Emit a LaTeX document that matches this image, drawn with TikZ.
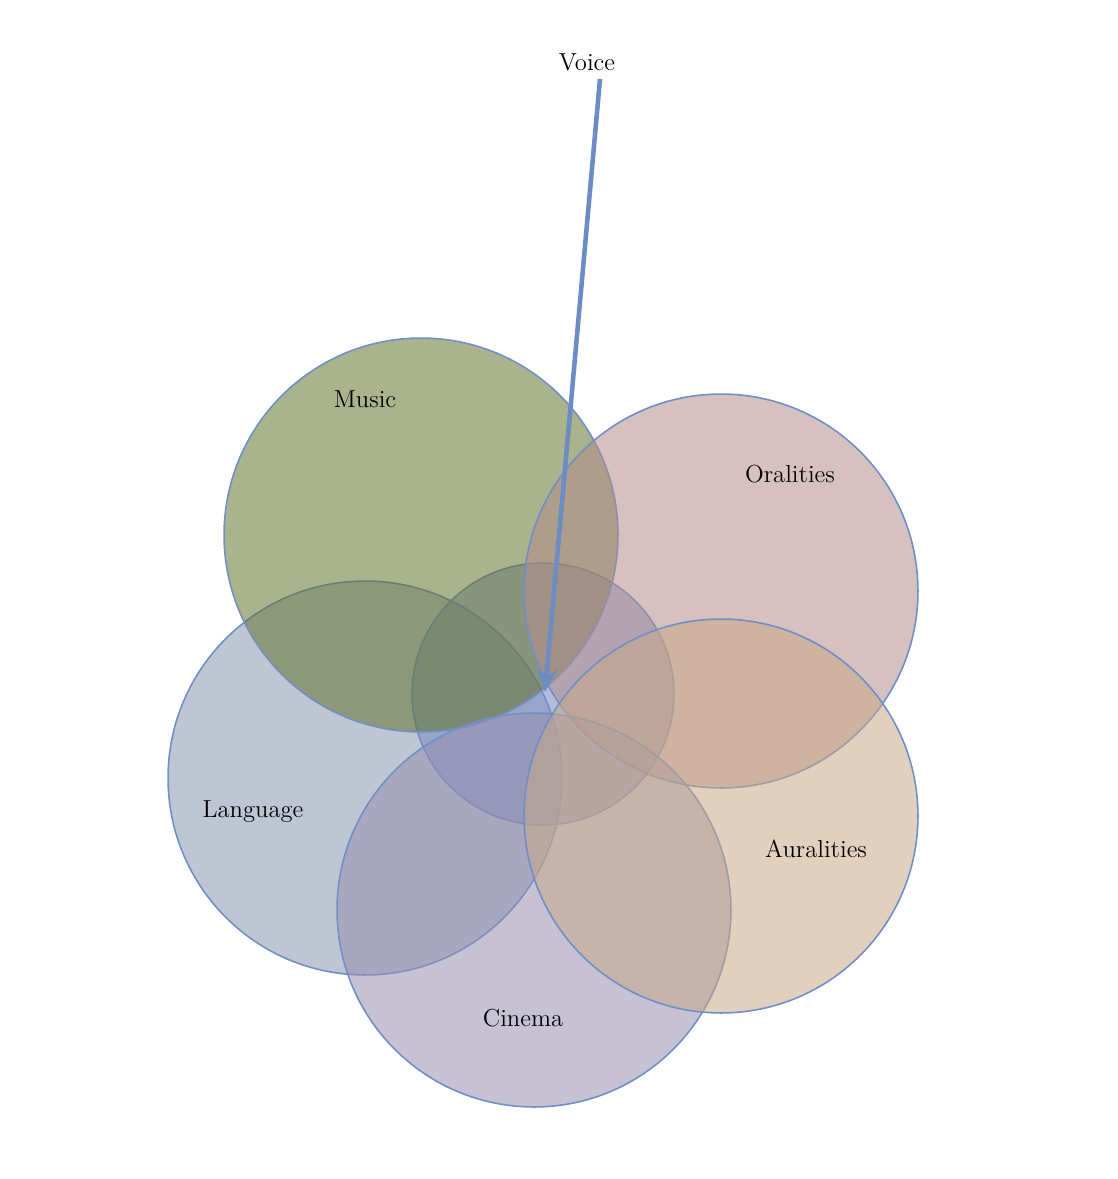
\documentclass[tikz,border=0pt]{standalone}
\usepackage{tikz}
\usetikzlibrary{arrows.meta}
\definecolor{musicgreen}{RGB}{100,116,44}
\definecolor{oralpink}{RGB}{180,140,140}
\definecolor{langblue}{RGB}{138,151,175}
\definecolor{cinemalilac}{RGB}{151,142,175}
\definecolor{auralbeige}{RGB}{200,169,135}
\definecolor{voicecore}{RGB}{125,140,196}
\definecolor{rimblue}{RGB}{111,143,200}
\definecolor{arrowblue}{RGB}{108,140,196}

\tikzset{
  bigdisc/.style={circle,draw=rimblue,line width=0.9pt,minimum size=7.88cm,inner sep=0pt,outer sep=0pt,fill opacity=0.55},
  coredisc/.style={circle,draw=rimblue,line width=0.9pt,minimum size=5.24cm,inner sep=0pt,outer sep=0pt,fill opacity=0.58},
  tag/.style={font=\fontsize{14}{16}\selectfont,text=black}
}

\begin{document}
\begin{tikzpicture}[x=0.02cm,y=-0.02cm]
	% page frame
	\useasboundingbox (0,0) rectangle (1117,1179);
	% fields, back to front
	\node[bigdisc,fill=langblue]    (lang)   at (365,778) {};
	\node[coredisc,fill=voicecore]  (core)   at (543,694) {};
	\node[bigdisc,fill=musicgreen]  (music)  at (421,535) {};
	\node[bigdisc,fill=oralpink]    (oral)   at (721,591) {};
	\node[bigdisc,fill=cinemalilac] (cinema) at (534,910) {};
	\node[bigdisc,fill=auralbeige]  (aural)  at (721,816) {};
	% field labels
	\node[tag] (musiclbl)  at (365,399)  {Music};
	\node[tag] (orallbl)   at (790,474)  {Oralities};
	\node[tag] (langlbl)   at (253,812)  {Language};
	\node[tag] (aurallbl)  at (816,849)  {Auralities};
	\node[tag] (cinemalbl) at (523,1018) {Cinema};
	% voice pointing into the middle
	\node[tag] (voice) at (587,62) {Voice};
	\coordinate (vtail) at (600,79);
	\coordinate (vtip)  at (545,692);
	\draw[arrowblue,line width=2.6pt,-{Stealth[length=13pt,width=12pt,inset=4pt]}] (vtail) -- (vtip);
\end{tikzpicture}
\end{document}
